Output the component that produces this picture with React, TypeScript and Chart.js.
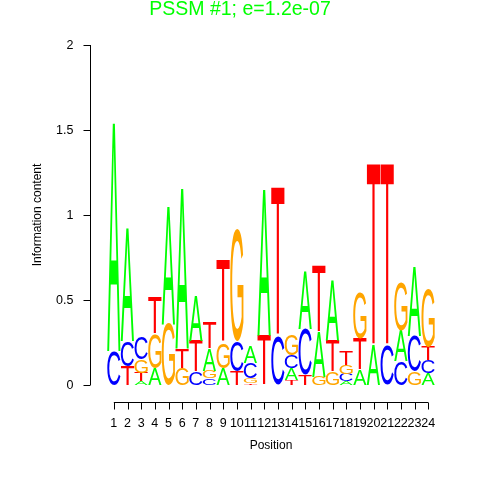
import React, { useEffect, useRef } from "react";
import { Chart, registerables } from "chart.js";

Chart.register(...registerables);

const positions = [1, 2, 3, 4, 5, 6, 7, 8, 9, 10, 11, 12, 13, 14, 15, 16, 17, 18, 19, 20, 21, 22, 23, 24];
const letters = ["A", "C", "G", "T"];
const letterColors = ["#00FF00", "#0000FF", "#FFA500", "#FF0000"];
const heightsA = [1.34, 0.66, 0.02, 0.1, 0.69, 0.94, 0.26, 0.13, 0.1, 0, 0.1, 0.86, 0, 0.07, 0.34, 0.26, 0.35, 0.02, 0.09, 0.23, 0, 0.18, 0.41, 0.07];
const heightsC = [0.2, 0.15, 0.13, 0, 0, 0, 0.08, 0.04, 0, 0.18, 0.09, 0, 0.29, 0.075, 0.27, 0, 0, 0.045, 0, 0, 0.23, 0.14, 0.21, 0.075];
const heightsG = [0, 0, 0.08, 0.2, 0.36, 0.1, 0, 0.045, 0.15, 0.66, 0.03, 0, 0, 0.12, 0, 0.05, 0.08, 0.05, 0.27, 0, 0, 0.29, 0.08, 0.34];
const heightsT = [0, 0.11, 0.05, 0.21, 0, 0.11, 0.18, 0.15, 0.48, 0.08, 0.01, 0.29, 0.87, 0.03, 0.06, 0.39, 0.18, 0.08, 0.18, 1.07, 1.07, 0, 0, 0.08];
const yTicks = [0, 0.5, 1, 1.5, 2];
const yTickLabels = ["0", "0.5", "1", "1.5", "2"];
const titleText = "PSSM #1; e=1.2e-07";
const xTitle = "Position";
const yTitle = "Information content";

const FONT = "'Liberation Sans', Arial, Helvetica, sans-serif";

function drawLetter(ctx: CanvasRenderingContext2D, ch: string, color: string, x0: number, x1: number, yBottom: number, yTop: number) {
  const h = yBottom - yTop;
  const w = x1 - x0;
  if (h <= 0.05 || w <= 0) return;
  ctx.save();
  ctx.font = "100px " + FONT;
  ctx.textBaseline = "alphabetic";
  ctx.textAlign = "left";
  const m = ctx.measureText(ch);
  const gl = m.actualBoundingBoxLeft;
  const gr = m.actualBoundingBoxRight;
  const ga = m.actualBoundingBoxAscent;
  const gd = m.actualBoundingBoxDescent;
  const gw = gl + gr;
  const gh = ga + gd;
  ctx.translate(x0, yTop);
  ctx.scale(w / gw, h / gh);
  ctx.fillStyle = color;
  ctx.fillText(ch, gl, ga);
  ctx.restore();
}

const logoPlugin = {
  id: "logoPlugin",
  afterDatasetsDraw(chart: any) {
    const ctx: CanvasRenderingContext2D = chart.ctx;
    const xs = chart.scales.x;
    const ys = chart.scales.y;
    const area = chart.chartArea;
    const ds = chart.data.datasets;
    positions.forEach((p, i) => {
      const items = ds.map((d: any, k: number) => ({ ch: letters[k], color: letterColors[k], v: d.data[i].y }));
      items.sort((a: any, b: any) => a.v - b.v);
      const xl = xs.getPixelForValue(p - 0.5) + 0.2;
      const xr = xs.getPixelForValue(p + 0.5) - 0.2;
      let cum = 0;
      items.forEach((it: any) => {
        if (it.v <= 0) return;
        const yb = ys.getPixelForValue(cum);
        const yt = ys.getPixelForValue(cum + it.v);
        drawLetter(ctx, it.ch, it.color, xl, xr, yb, yt);
        cum += it.v;
      });
    });

    ctx.save();
    ctx.strokeStyle = "#000";
    ctx.fillStyle = "#000";
    ctx.lineWidth = 1;
    const ax = Math.round(area.left - 17) + 0.5;
    ctx.beginPath();
    ctx.moveTo(ax, ys.getPixelForValue(yTicks[0]));
    ctx.lineTo(ax, ys.getPixelForValue(yTicks[yTicks.length - 1]));
    yTicks.forEach((t) => {
      const y = Math.round(ys.getPixelForValue(t)) + 0.5;
      ctx.moveTo(ax, y);
      ctx.lineTo(ax - 7, y);
    });
    ctx.stroke();
    ctx.font = "12.5px " + FONT;
    ctx.textAlign = "right";
    ctx.textBaseline = "middle";
    yTicks.forEach((t, i) => {
      ctx.fillText(yTickLabels[i], ax - 17, ys.getPixelForValue(t) + 1);
    });
    const ay = Math.round(area.bottom + 17) + 0.5;
    ctx.beginPath();
    ctx.moveTo(xs.getPixelForValue(positions[0]), ay);
    ctx.lineTo(xs.getPixelForValue(positions[positions.length - 1]), ay);
    positions.forEach((p) => {
      const x = Math.round(xs.getPixelForValue(p)) + 0.5;
      ctx.moveTo(x, ay);
      ctx.lineTo(x, ay + 7);
    });
    ctx.stroke();
    ctx.textAlign = "center";
    ctx.textBaseline = "middle";
    positions.forEach((p) => {
      ctx.fillText(String(p), xs.getPixelForValue(p), ay + 21);
    });
    ctx.font = "12px " + FONT;
    const xc = (xs.getPixelForValue(positions[0]) + xs.getPixelForValue(positions[positions.length - 1])) / 2;
    ctx.fillText(xTitle, xc, ay + 43);
    ctx.save();
    ctx.translate(38, (area.top + area.bottom) / 2);
    ctx.rotate(-Math.PI / 2);
    ctx.fillText(yTitle, 0, 0);
    ctx.restore();
    ctx.fillStyle = "#00FF00";
    ctx.font = "19.5px " + FONT;
    ctx.textAlign = "center";
    ctx.textBaseline = "alphabetic";
    ctx.fillText(titleText, 240, 15);
    ctx.restore();
  },
};

export default function App() {
  const ref = useRef<HTMLCanvasElement | null>(null);
  useEffect(() => {
    if (!ref.current) return;
    const series = [heightsA, heightsC, heightsG, heightsT];
    const chart = new Chart(ref.current, {
      type: "scatter",
      data: {
        datasets: series.map((arr, k) => ({
          label: letters[k],
          data: positions.map((p, i) => ({ x: p, y: arr[i] })),
          pointRadius: 0,
          showLine: false,
          backgroundColor: letterColors[k],
          borderColor: letterColors[k],
        })),
      },
      options: {
        responsive: false,
        animation: false,
        devicePixelRatio: 1,
        layout: { padding: { left: 107, right: 45, top: 45, bottom: 95 } },
        scales: {
          x: { type: "linear", min: 0.5, max: 24.5, display: false },
          y: { type: "linear", min: 0, max: 2, display: false },
        },
        plugins: {
          legend: { display: false },
          title: { display: false },
          tooltip: { enabled: false },
        },
        events: [],
      },
      plugins: [logoPlugin],
    });
    return () => chart.destroy();
  }, []);
  return (
    <div style={{ position: "absolute", left: 0, top: 0, width: 480, height: 480, background: "#fff" }}>
      <canvas ref={ref} width={480} height={480} style={{ display: "block", width: 480, height: 480 }} />
    </div>
  );
}
